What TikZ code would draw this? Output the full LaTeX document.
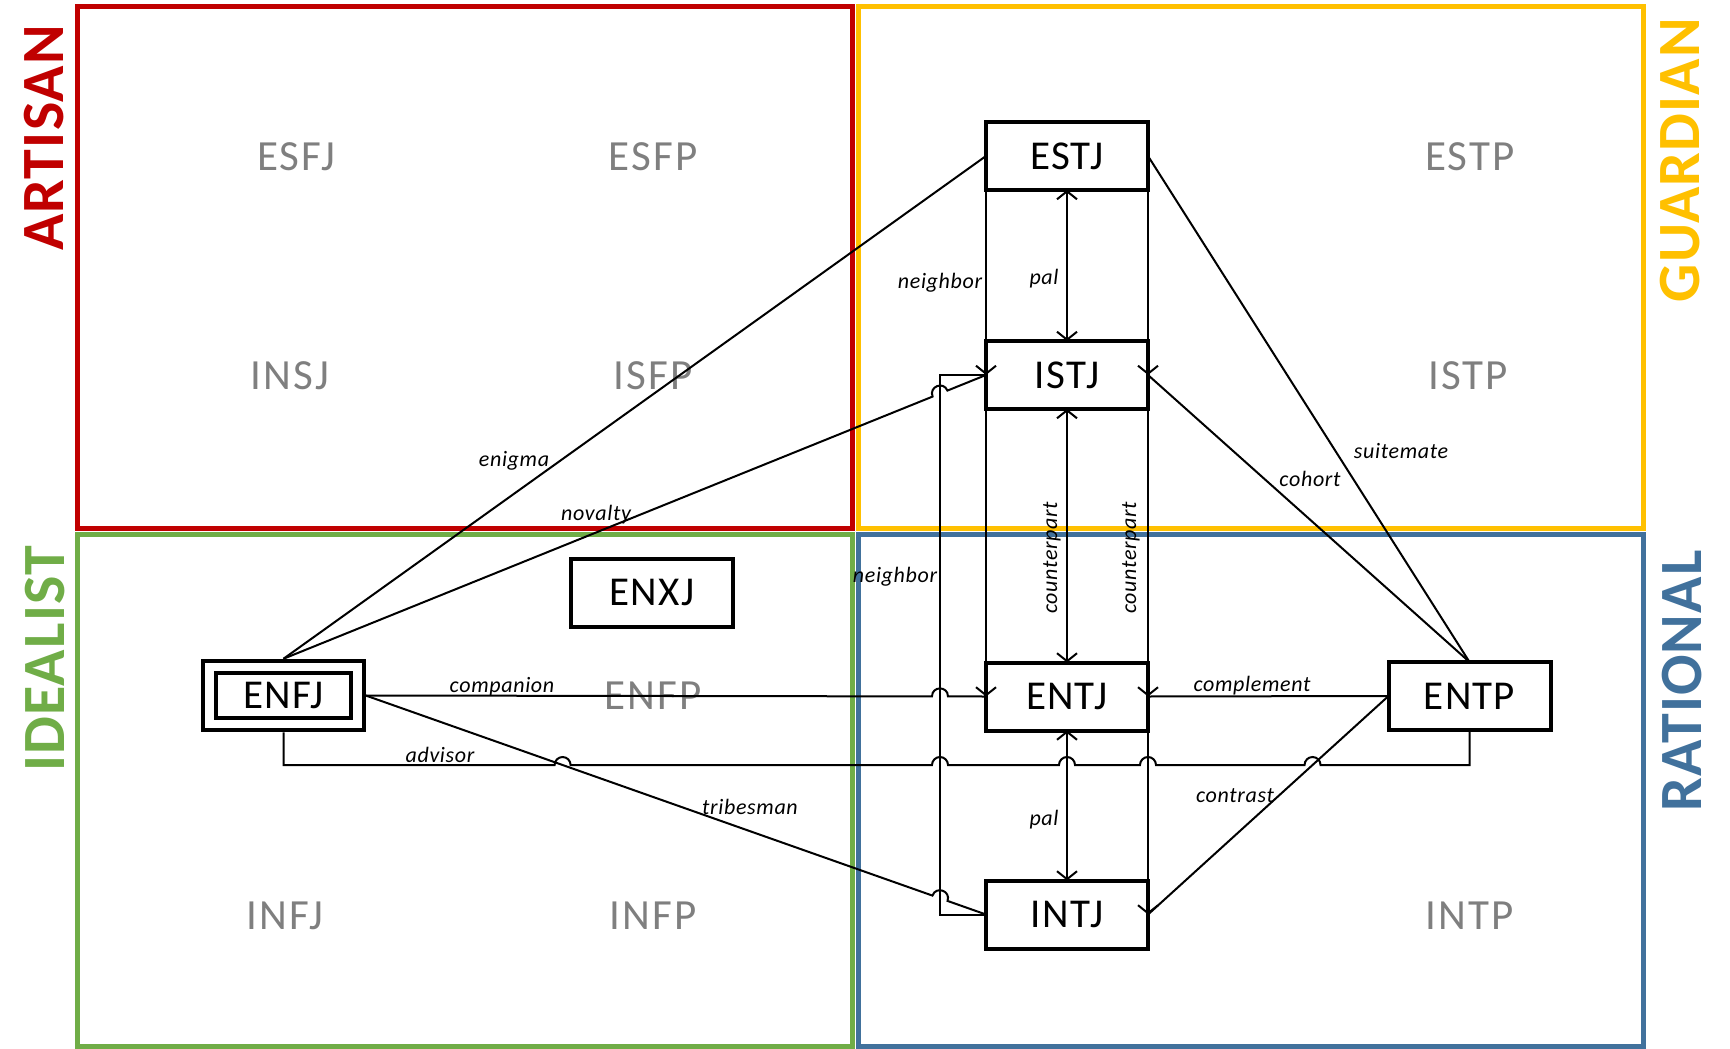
\documentclass[tikz,border=0pt]{standalone}
\usepackage{fontspec}
\setmainfont{Carlito}
\usetikzlibrary{arrows.meta,calc,intersections}

\definecolor{artisanred}{HTML}{C00000}
\definecolor{guardianyellow}{HTML}{FFC000}
\definecolor{idealistgreen}{HTML}{70AD47}
\definecolor{rationalblue}{HTML}{41719C}
\definecolor{typegrey}{HTML}{7F7F7F}

\tikzset{
  conn/.style={line width=2pt},
  >={Straight Barb[length=8pt,width=20pt]},
  typebox/.style={draw, fill=white, line width=4pt, minimum width=162pt,
    minimum height=68pt, inner sep=0pt, outer sep=0pt,
    font=\fontsize{41}{41}\selectfont\addfontfeatures{LetterSpace=3}},
  ghosttype/.style={text=typegrey, inner sep=0pt,
    font=\fontsize{43}{43}\selectfont\addfontfeatures{LetterSpace=5}},
  rellabel/.style={inner sep=0pt,
    font=\itshape\fontsize{22}{22}\selectfont\addfontfeatures{LetterSpace=3}},
  grouplabel/.style={rotate=90, inner sep=0pt,
    font=\bfseries\fontsize{60}{60}\selectfont\addfontfeatures{LetterSpace=2}},
  groupbox/.style={line width=5pt},
}

% radius of the little semicircle where a line jumps over another one
\newcommand\hoprad{8pt}
% straight connector #1 -- #2 that jumps over the path named #3
\newcommand\hopline[3]{%
  \path[name path=hoptmp] #1 -- #2;
  \path[name intersections={of=hoptmp and #3, by=hopc}];
  \coordinate (hopa) at ($(hopc)!\hoprad!#1$);
  \coordinate (hopb) at ($(hopc)!\hoprad!#2$);
  \draw[conn] #1 -- (hopa)
    .. controls ($(hopa)!1.3333!90:(hopc)$) and ($(hopb)!1.3333!-90:(hopc)$) ..
    (hopb) -- #2;}

\begin{document}
\begin{tikzpicture}[x=1pt,y=1pt]
\useasboundingbox (0,0) rectangle (1730,-1049);

% temperament quadrants
\draw[groupbox, artisanred]     (77,-7)    rectangle (852,-528);
\draw[groupbox, guardianyellow] (858,-7)   rectangle (1643,-528);
\draw[groupbox, idealistgreen]  (77,-534)  rectangle (852,-1046);
\draw[groupbox, rationalblue]   (858,-534) rectangle (1643,-1046);

\node[grouplabel, text=artisanred]     (artisan)  at (44,-138)   {ARTISAN};
\node[grouplabel, text=guardianyellow] (guardian) at (1680,-160) {GUARDIAN};
\node[grouplabel, text=idealistgreen]  (idealist) at (45,-659)   {IDEALIST};
\node[grouplabel, text=rationalblue]   (rational) at (1682,-681) {RATIONAL};

% the remaining types, in grey
\node[ghosttype] (esfj) at (296,-157)  {ESFJ};
\node[ghosttype] (esfp) at (653,-157)  {ESFP};
\node[ghosttype] (insj) at (290,-376)  {INSJ};
\node[ghosttype] (isfp) at (653,-376)  {ISFP};
\node[ghosttype] (estp) at (1470,-157) {ESTP};
\node[ghosttype] (istp) at (1468,-376) {ISTP};
\node[ghosttype] (enfp) at (653,-696)  {ENFP};
\node[ghosttype] (infj) at (285,-916)  {INFJ};
\node[ghosttype] (infp) at (653,-916)  {INFP};
\node[ghosttype] (intp) at (1470,-916) {INTP};

% highlighted types
\node[typebox] (ESTJ) at (1067,-156)   {ESTJ};
\node[typebox] (ISTJ) at (1067,-375)   {ISTJ};
\node[typebox] (ENTJ) at (1067,-696.5) {ENTJ};
\node[typebox] (INTJ) at (1067,-914.5) {INTJ};
\node[typebox] (ENTP) at (1469.5,-696) {ENTP};
\node[typebox] (ENXJ) at (652,-592.5)  {ENXJ};
\node[typebox, double, double distance=8.5pt, minimum width=148pt,
      minimum height=57pt, outer sep=8.25pt] (ENFJ) at (283.5,-695.5) {ENFJ};

% helper coordinates and paths
\coordinate (nbx) at (940,0);
\coordinate (advy) at (0,-765);
\path[name path=vnb] (nbx |- ISTJ.west) -- (nbx |- INTJ.west);
\path[name path=advline] (advy) -- (1730,-765);
\path[name path=tribeline] (ENFJ.east) -- (INTJ.west);
\path[name path=contline] (ENTP.west) -- (INTJ.east);
\path[name intersections={of=advline and tribeline, by=xtribe}];
\path[name intersections={of=advline and contline, by=xcont}];

% column of S/N and E/I links
\draw[conn,<->] (ESTJ.south) -- (ISTJ.north);
\draw[conn,<->] (ISTJ.south) -- (ENTJ.north);
\draw[conn,<->] (ENTJ.south) -- (INTJ.north);
\draw[conn,->] (ESTJ.west) -- (ISTJ.west);
\draw[conn,->] (ISTJ.west) -- (ENTJ.west);
\draw[conn,->] (ESTJ.east) -- (ISTJ.east);
\draw[conn,->] (ISTJ.east) -- (ENTJ.east);
\draw[conn,->] (ENTJ.east) -- (INTJ.east);
\draw[conn] (INTJ.west) -- (nbx |- INTJ.west) -- (nbx |- ISTJ.west) -- (ISTJ.west);

% links from ENFJ
\draw[conn] (ENFJ.north) -- (ESTJ.west);
\hopline{(ENFJ.north)}{(ISTJ.west)}{vnb}
\hopline{(ENFJ.east)}{(ENTJ.west)}{vnb}
\hopline{(ENFJ.east)}{(INTJ.west)}{vnb}
\draw[conn] (ENFJ.south) -- (ENFJ.south |- advy)
  -- ($(xtribe)+(-8,0)$) arc[start angle=180, end angle=0, radius=\hoprad]
  -- ($(nbx |- advy)+(-8,0)$) arc[start angle=180, end angle=0, radius=\hoprad]
  -- ($(ENTJ.south |- advy)+(-8,0)$) arc[start angle=180, end angle=0, radius=\hoprad]
  -- ($(ENTJ.east |- advy)+(-8,0)$) arc[start angle=180, end angle=0, radius=\hoprad]
  -- ($(xcont)+(-8,0)$) arc[start angle=180, end angle=0, radius=\hoprad]
  -- (ENTP.south |- advy) -- (ENTP.south);

% links from ENTP
\draw[conn] (ENTP.west) -- (ENTJ.east);
\draw[conn] (ENTP.west) -- (INTJ.east);
\draw[conn] (ENTP.north) -- (ISTJ.east);
\draw[conn] (ENTP.north) -- (ESTJ.east);

% relationship names
\node[rellabel] (lneighbor1)  at (940,-283)  {neighbor};
\node[rellabel] (lpal1)       at (1044,-279) {pal};
\node[rellabel] (lenigma)     at (514,-461)  {enigma};
\node[rellabel] (lnovalty)    at (596,-515)  {novalty};
\node[rellabel] (lcohort)     at (1310,-479) {cohort};
\node[rellabel] (lsuitemate)  at (1401,-451) {suitemate};
\node[rellabel, rotate=90] (lcounter1) at (1052,-558) {counterpart};
\node[rellabel, rotate=90] (lcounter2) at (1131,-558) {counterpart};
\node[rellabel] (lneighbor2)  at (895,-577)  {neighbor};
\node[rellabel] (lcompanion)  at (502,-687)  {companion};
\node[rellabel] (lcomplement) at (1252,-686) {complement};
\node[rellabel] (ladvisor)    at (440,-755)  {advisor};
\node[rellabel] (lcontrast)   at (1235,-796) {contrast};
\node[rellabel] (ltribesman)  at (750,-807)  {tribesman};
\node[rellabel] (lpal2)       at (1044,-820) {pal};
\end{tikzpicture}
\end{document}
